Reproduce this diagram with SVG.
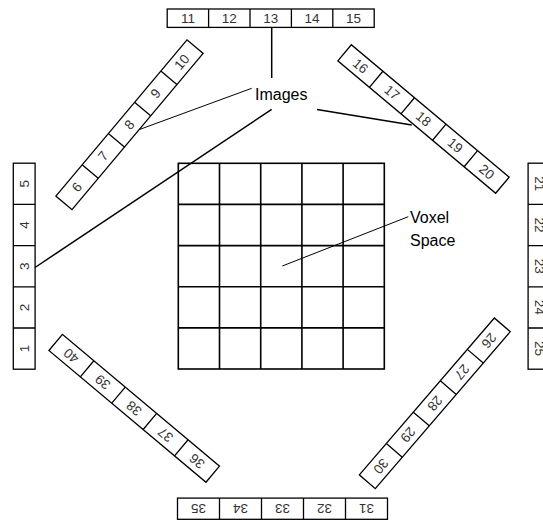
<svg xmlns="http://www.w3.org/2000/svg" width="543" height="520" viewBox="0 0 543 520">
<style>
.box{fill:#fff;stroke:#000;stroke-width:1.3}
.div{stroke:#000;stroke-width:1.3}
.num{font-family:"Liberation Sans",Arial,sans-serif;font-size:13.5px;fill:#333;text-anchor:middle;dominant-baseline:central}
.lbl{font-family:"Liberation Sans",Arial,sans-serif;font-size:16px;fill:#000}
.grid{fill:none;stroke:#000;stroke-width:1.6}
.con{stroke:#000;fill:none}
</style>
<rect width="543" height="520" fill="#fff"/>

<g id="voxel-space">
  <rect class="grid" x="178.3" y="163.3" width="206" height="205.7"/>
  <path class="grid" d="M219.5 163.3V369M260.7 163.3V369M301.9 163.3V369M343.1 163.3V369M178.3 204.4H384.3M178.3 245.6H384.3M178.3 286.7H384.3M178.3 327.9H384.3"/>
</g>

<g id="strip-top" transform="translate(270.7 18.2)">
  <rect class="box" x="-103.5" y="-9.2" width="207" height="18.4"/>
  <path class="div" d="M-62.1 -9.2V9.2M-20.7 -9.2V9.2M20.7 -9.2V9.2M62.1 -9.2V9.2"/>
  <text class="num" x="-82.8" y="0">11</text><text class="num" x="-41.4" y="0">12</text><text class="num" x="0" y="0">13</text><text class="num" x="41.4" y="0">14</text><text class="num" x="82.8" y="0">15</text>
</g>

<g id="strip-left" transform="translate(24.2 266.2) rotate(-90)">
  <rect class="box" x="-103" y="-10.9" width="206" height="21.8"/>
  <path class="div" d="M-61.8 -10.9V10.9M-20.6 -10.9V10.9M20.6 -10.9V10.9M61.8 -10.9V10.9"/>
  <text class="num" x="-82.4" y="0">1</text><text class="num" x="-41.2" y="0">2</text><text class="num" x="0" y="0">3</text><text class="num" x="41.2" y="0">4</text><text class="num" x="82.4" y="0">5</text>
</g>

<g id="strip-right" transform="translate(539 266.2) rotate(90)">
  <rect class="box" x="-103" y="-10.9" width="206" height="21.8"/>
  <path class="div" d="M-61.8 -10.9V10.9M-20.6 -10.9V10.9M20.6 -10.9V10.9M61.8 -10.9V10.9"/>
  <text class="num" x="-82.4" y="0">21</text><text class="num" x="-41.2" y="0">22</text><text class="num" x="0" y="0">23</text><text class="num" x="41.2" y="0">24</text><text class="num" x="82.4" y="0">25</text>
</g>

<g id="strip-bottom" transform="translate(282.5 508.7) rotate(180)">
  <rect class="box" x="-105" y="-10.6" width="210" height="21.2"/>
  <path class="div" d="M-63 -10.6V10.6M-21 -10.6V10.6M21 -10.6V10.6M63 -10.6V10.6"/>
  <text class="num" x="-84" y="0">31</text><text class="num" x="-42" y="0">32</text><text class="num" x="0" y="0">33</text><text class="num" x="42" y="0">34</text><text class="num" x="84" y="0">35</text>
</g>

<g id="strip-top-left" transform="translate(129.5 124.7) rotate(-50)">
  <rect class="box" x="-102" y="-10.5" width="204" height="21"/>
  <path class="div" d="M-61.2 -10.5V10.5M-20.4 -10.5V10.5M20.4 -10.5V10.5M61.2 -10.5V10.5"/>
  <text class="num" x="-81.6" y="0">6</text><text class="num" x="-40.8" y="0">7</text><text class="num" x="0" y="0">8</text><text class="num" x="40.8" y="0">9</text><text class="num" x="81.6" y="0">10</text>
</g>

<g id="strip-top-right" transform="translate(423.5 119) rotate(40)">
  <rect class="box" x="-103" y="-10.5" width="206" height="21"/>
  <path class="div" d="M-61.8 -10.5V10.5M-20.6 -10.5V10.5M20.6 -10.5V10.5M61.8 -10.5V10.5"/>
  <text class="num" x="-82.4" y="0">16</text><text class="num" x="-41.2" y="0">17</text><text class="num" x="0" y="0">18</text><text class="num" x="41.2" y="0">19</text><text class="num" x="82.4" y="0">20</text>
</g>

<g id="strip-bottom-right" transform="translate(434.8 403.3) rotate(130.7)">
  <rect class="box" x="-103.5" y="-10.5" width="207" height="21"/>
  <path class="div" d="M-62.1 -10.5V10.5M-20.7 -10.5V10.5M20.7 -10.5V10.5M62.1 -10.5V10.5"/>
  <text class="num" x="-82.8" y="0">26</text><text class="num" x="-41.4" y="0">27</text><text class="num" x="0" y="0">28</text><text class="num" x="41.4" y="0">29</text><text class="num" x="82.8" y="0">30</text>
</g>

<g id="strip-bottom-left" transform="translate(134.2 408.3) rotate(220)">
  <rect class="box" x="-102.5" y="-10.5" width="205" height="21"/>
  <path class="div" d="M-61.5 -10.5V10.5M-20.5 -10.5V10.5M20.5 -10.5V10.5M61.5 -10.5V10.5"/>
  <text class="num" x="-82" y="0">36</text><text class="num" x="-41" y="0">37</text><text class="num" x="0" y="0">38</text><text class="num" x="41" y="0">39</text><text class="num" x="82" y="0">40</text>
</g>

<g id="label-images"><text class="lbl" x="255" y="99.5">Images</text></g>
<g id="label-voxel"><text class="lbl" x="410" y="223">Voxel</text><text class="lbl" x="410" y="245.5">Space</text></g>

<g id="connectors">
  <line class="con" stroke-width="1.5" x1="271.7" y1="27.4" x2="271.7" y2="78"/>
  <line class="con" stroke-width="1" stroke="#333" x1="140" y1="129.3" x2="251.7" y2="88.3"/>
  <line class="con" stroke-width="1.5" x1="35" y1="267.5" x2="271.7" y2="109.3"/>
  <line class="con" stroke-width="1.6" x1="317" y1="109.5" x2="411.7" y2="125"/>
  <line class="con" stroke-width="1" stroke="#555" x1="282.3" y1="266" x2="408.3" y2="216.7"/>
</g>
</svg>
